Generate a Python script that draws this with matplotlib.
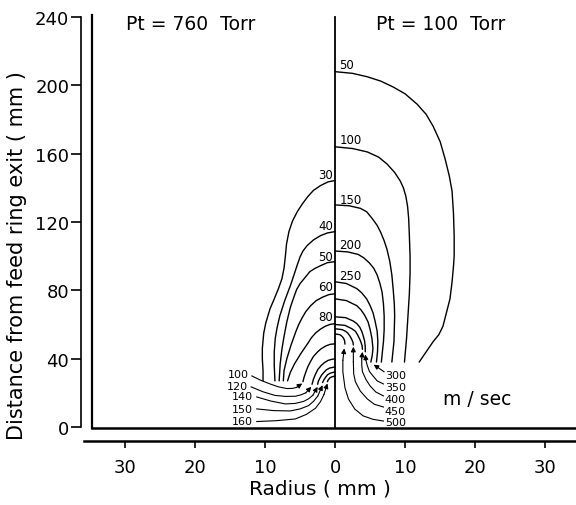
import numpy as np
import matplotlib
matplotlib.use("Agg")
import matplotlib.pyplot as plt

# radius (mm) and distance from feed ring exit (mm)
# right half: Pt = 100 Torr, velocity contours in m/sec
right_levels = [50, 100, 150, 200, 250, 300, 350, 400, 450, 500]
right_r = [
    [0, 2.5, 4.6, 6.5, 8.3, 10, 11.7, 13, 14, 15, 15.7, 16.3, 16.7, 16.9, 17, 17, 16.9, 16.7, 16.4, 15.9, 15.4, 14.8, 14, 13, 12],
    [0, 2.5, 4.6, 6.2, 7.4, 8.5, 9.3, 9.75, 10.1, 10.35, 10.5, 10.6, 10.7, 10.7, 10.6, 10.4, 10.2, 9.9],
    [0, 2, 3.6, 4.5, 5.3, 6, 6.5, 7, 7.4, 7.8, 8.1, 8.3, 8.45, 8.5, 8.4, 8.1],
    [0, 1.8, 3.3, 4.1, 4.9, 5.5, 6.0, 6.4, 6.7, 6.9, 7.0, 7.0, 6.9, 6.6],
    [0, 1.6, 3.1, 3.8, 4.5, 5, 5.4, 5.7, 6, 6.1, 6.05, 5.9],
    [0, 1.6, 3.1, 3.7, 4.2, 4.7, 5.0, 5.25, 5.4, 5.3, 5.1],
    [0, 1.5, 2.6, 3.1, 3.5, 3.8, 4.0, 4.2, 4.3, 4.3],
    [0, 1.4, 2.4, 2.9, 3.2, 3.5, 3.7, 3.85, 3.9],
    [0, 1, 1.5, 1.8, 2.15, 2.4, 2.55, 2.6],
    [0, 0.7, 1.0, 1.2, 1.35, 1.4],
]
right_z = [
    [208, 207, 205, 202.5, 199, 195, 189, 183, 176, 167, 157, 147, 138, 125, 112, 100, 94, 85, 75, 67, 59, 54, 50, 44, 38],
    [164, 163, 161, 158, 154, 149, 144, 140, 135, 129, 122, 112, 100, 90, 78, 65, 52, 38],
    [130, 129.5, 128, 126, 122, 118, 114, 109, 104, 97, 89, 80, 72, 65, 50, 38],
    [103, 102.5, 101, 99, 96, 93, 89, 84, 79, 72, 65, 57, 50, 38],
    [85, 84, 81, 78.5, 75, 71, 67, 62, 56, 50, 44, 38],
    [75, 74, 71, 68.5, 65.5, 61.5, 57, 52, 46, 42, 38],
    [64.5, 64, 62, 60.5, 58.5, 56, 53.5, 50.5, 47, 44],
    [60, 59.5, 57.5, 56, 54, 51.5, 49.5, 47.5, 45.5],
    [57.5, 57, 56, 55, 53, 51, 49.5, 48],
    [54.5, 54, 53, 52, 50.5, 48.5],
]
# labels on the axis (50..250) and at the bottom (300..500) with leader arrows
right_axis_labels = [(50, 212), (100, 168), (150, 133), (200, 107), (250, 88.5)]
right_foot_labels = [(300, 30.5), (350, 23.5), (400, 16.4), (450, 9.4), (500, 2.9)]
right_lead_r = [
    [7.0, 5.5],
    [6.9, 6.0, 5.4, 4.9, 4.6, 4.4, 4.3],
    [6.9, 5.8, 5, 4.4, 3.9, 3.8, 3.8, 3.9],
    [6.9, 5.6, 4.6, 3.6, 2.9, 2.65, 2.6, 2.6],
    [6.9, 5.4, 4, 2.8, 1.9, 1.4, 1.1, 1.1, 1.3],
]
right_lead_z = [
    [32.3, 36.5],
    [25.2, 27.0, 29.9, 32.5, 35.8, 39, 42.5],
    [18.2, 20.5, 24, 27.8, 32.3, 36, 40, 44],
    [11.7, 13.3, 16.4, 21, 26.4, 31, 38, 47],
    [3.5, 4.5, 6.5, 10.5, 16.4, 23, 32.3, 39, 46],
]

# left half: Pt = 760 Torr
left_levels = [30, 40, 50, 60, 80, 100, 120, 140, 150, 160]
left_r = [
    [0, -1, -2.1, -3.1, -3.9, -4.7, -5.4, -6.1, -6.6, -6.95, -7.1, -7.3, -7.6, -8.1, -8.7, -9.3, -9.9, -10.2, -10.4, -10.4, -10.3, -10.3],
    [0, -1.1, -2.1, -3.1, -4, -4.6, -5, -5.4, -5.8, -6.4, -7.2, -7.9, -8.3, -8.55, -8.7, -8.7, -8.6],
    [0, -1.1, -2.1, -2.9, -3.6, -4.3, -5, -5.5, -5.9, -6.4, -6.9, -7.3, -7.6, -7.85, -8.0],
    [0, -0.9, -1.8, -2.7, -3.5, -4.2, -4.7, -5.2, -5.6, -6.3, -6.9, -7.3, -7.4],
    [0, -0.7, -1.4, -2.1, -2.8, -3.4, -3.9, -4.4, -4.9, -5.8, -6.4, -6.8],
    [0, -0.7, -1.3, -2.0, -2.5, -3.1, -3.5, -3.9, -4.2, -4.45, -4.6],
    [0, -0.5, -1, -1.5, -2, -2.45, -2.8, -3.1, -3.3],
    [0, -0.8, -1.25, -1.6, -1.95, -2.2, -2.4, -2.5],
    [0, -0.7, -1.05, -1.3, -1.6, -1.8],
    [0, -0.5, -0.75, -0.9, -1.05, -1.1],
]
left_z = [
    [144.3, 143.5, 141.3, 138.5, 134.9, 130.5, 126.1, 120.5, 114.4, 107, 100.3, 93, 86.8, 81, 75, 69.2, 61, 55, 46, 39.9, 33, 27],
    [114.4, 113.6, 112, 109.5, 106.2, 103, 99.7, 95, 90, 82.7, 74, 65.1, 58, 52, 44, 36, 27],
    [96.8, 96.2, 94.4, 92.8, 91, 87.5, 84, 80.5, 76, 70, 61.6, 53, 45.7, 37, 27],
    [78, 77.5, 76, 74, 71, 67.5, 64, 60, 56, 48, 40, 33, 27],
    [60.5, 60.1, 59, 57.3, 55, 52.2, 49, 46, 43, 37, 32, 27],
    [48.7, 48.4, 47.5, 45.8, 44, 41.3, 38.5, 35.3, 32, 29, 26.5],
    [39.9, 39.6, 39, 37.8, 36, 33.8, 31, 28, 25],
    [35.2, 34.5, 33.5, 32, 30.3, 28.5, 26.8, 25],
    [32.3, 31.5, 30.7, 29.5, 27.7, 26],
    [29.9, 29.3, 28.8, 28, 27.2, 26.5],
]
left_axis_labels = [(30, 148), (40, 118), (50, 100), (60, 82), (80, 64.5)]
left_foot_labels = [(100, 31, -12.4), (120, 24, -12.4), (140, 18.2, -11.7), (150, 10.6, -11.7), (160, 3.5, -11.7)]
left_lead_r = [
    [-11.9, -10.6, -9.3, -8.1, -6.9, -6.1, -5.5, -4.7],
    [-12.0, -10.3, -8.6, -7.1, -5.7, -4.9, -4.2, -3.4],
    [-11.2, -9.2, -7.1, -5.7, -4.5, -3.8, -3.2, -2.5],
    [-11.2, -8.8, -6.4, -5.0, -3.8, -3.1, -2.5, -1.8],
    [-11.2, -8.4, -5.7, -4.1, -2.8, -2.1, -1.6, -1.1],
]
left_lead_z = [
    [29.9, 27.3, 25.2, 23.5, 22.5, 22.6, 23.2, 25.5],
    [23.5, 20.6, 18.5, 17.9, 18, 18.8, 20, 23.5],
    [17.6, 15.2, 13.5, 13.8, 15, 16.5, 18.5, 23.5],
    [10.6, 9.6, 9.4, 10.6, 12.5, 15, 18, 24.5],
    [3.2, 3.7, 4.7, 7.4, 11, 14.8, 19, 25.5],
]

radius_ticks = [-30, -20, -10, 0, 10, 20, 30]
dist_ticks = [0, 40, 80, 120, 160, 200, 240]

W, H = 576, 506
fig = plt.figure(figsize=(W / 100, H / 100), dpi=100)
ax = fig.add_axes([81 / W, 1 - 428 / H, 495 / W, 410 / H])
ax.set_xlim(-36.3, 34.4)
ax.set_ylim(0, 240)

lw = 1.0
for r, z in zip(right_r + left_r, right_z + left_z):
    ax.plot(r, z, color="black", lw=lw, solid_joinstyle="round", solid_capstyle="round")


def leader(rr, zz):
    ax.plot(rr[:-1], zz[:-1], color="black", lw=0.8, solid_joinstyle="round")
    ax.annotate("", xy=(rr[-1], zz[-1]), xytext=(rr[-2], zz[-2]),
                arrowprops=dict(arrowstyle="-|>", color="black", lw=0.8,
                                mutation_scale=7, shrinkA=0, shrinkB=0))


for rr, zz in zip(right_lead_r + left_lead_r, right_lead_z + left_lead_z):
    leader(rr, zz)

fs_axis = 8.5
fs_foot = 8
for lev, z in right_axis_labels:
    ax.text(0.6, z, str(lev), fontsize=fs_axis, ha="left", va="center")
for lev, z in left_axis_labels:
    ax.text(-0.3, z, str(lev), fontsize=fs_axis, ha="right", va="center")
for lev, z in right_foot_labels:
    ax.text(7.1, z, str(lev), fontsize=fs_foot, ha="left", va="center")
for lev, z, r in left_foot_labels:
    ax.text(r, z, str(lev), fontsize=fs_foot, ha="right", va="center")

# frame lines of the original drawing
ax.plot([-34.7, -34.7], [-0.5, 241], color="black", lw=1.6, clip_on=False)
ax.plot([-34.7, 34.4], [-0.5, -0.5], color="black", lw=1.8, clip_on=False)
ax.plot([0, 0], [-0.5, 240], color="black", lw=1.3, clip_on=False)

ax.text(-20.7, 236, "Pt = 760  Torr", fontsize=13.5, ha="center", va="center")
ax.text(15.1, 236, "Pt = 100  Torr", fontsize=13.5, ha="center", va="center")
ax.text(20.3, 16.4, "m / sec", fontsize=13.5, ha="center", va="center")

for s in ["top", "right"]:
    ax.spines[s].set_visible(False)
ax.spines["left"].set_bounds(0, 240)
ax.spines["left"].set_linewidth(1.2)
ax.spines["bottom"].set_position(("outward", 10))
ax.spines["bottom"].set_bounds(-35.9, 34.4)
ax.spines["bottom"].set_linewidth(1.8)

ax.set_xticks(radius_ticks)
ax.set_xticklabels([str(abs(t)) for t in radius_ticks])
ax.set_yticks(dist_ticks)
ax.tick_params(axis="y", direction="out", length=7, width=1.2, pad=1.5, labelsize=13)
ax.tick_params(axis="x", direction="out", length=5, width=1.2, pad=7, labelsize=13)

ax.set_xlabel("Radius ( mm )", fontsize=14.5)
ax.xaxis.set_label_coords(0.483, -0.125)
ax.set_ylabel("Distance from feed ring exit ( mm )", fontsize=15)
ax.yaxis.set_label_coords(-0.11, 0.42)

fig.savefig("out.png", dpi=100)
